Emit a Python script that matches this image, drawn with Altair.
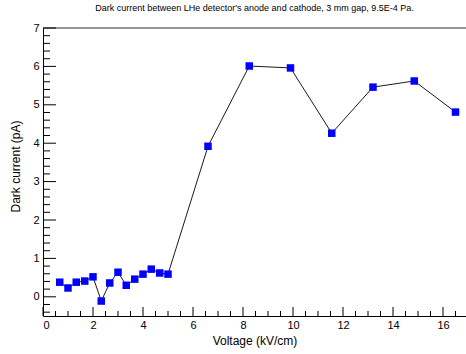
import altair as alt
import pandas as pd

# Dark current measurements: applied field (kV/cm) and current (pA)
voltage = [0.67, 1.0, 1.33, 1.67, 2.0, 2.33, 2.67, 3.0, 3.33, 3.67, 4.0, 4.33, 4.67, 5.0,
           6.6, 8.25, 9.9, 11.55, 13.2, 14.85, 16.5]
current = [0.38, 0.23, 0.38, 0.41, 0.52, -0.11, 0.36, 0.64, 0.30, 0.46, 0.59, 0.72, 0.62, 0.59,
           3.92, 6.01, 5.96, 4.26, 5.46, 5.62, 4.81]

# Axis tick positions
y_major = [0, 1, 2, 3, 4, 5, 6, 7]
y_minor = [round(-0.4 + 0.2 * i, 1) for i in range(37)]
y_minor = [v for v in y_minor if abs(v - round(v)) > 1e-6]
x_major = [0, 2, 4, 6, 8, 10, 12, 14, 16]
x_minor = [0.5 * i for i in range(1, 34) if (0.5 * i) % 2 != 0]
y_top = [7]

W, H = 423, 288
FONT = "Liberation Sans"

df = pd.DataFrame({"voltage": voltage, "current": current})
x_scale = alt.Scale(domain=[0, 16.92], nice=False, zero=False)
y_scale = alt.Scale(domain=[-0.5, 7], nice=False, zero=False)

x_enc = alt.X(
    "voltage:Q", scale=x_scale,
    axis=alt.Axis(values=x_major, ticks=False, grid=False, domainColor="black",
                  domainWidth=1, labelFontSize=11, labelColor="black", labelPadding=3,
                  title="Voltage (kV/cm)", titleFontSize=12, titleFontWeight="normal",
                  titleColor="black", titleX=W / 2, titleY=24, titleBaseline="middle",
                  titleAlign="center"),
)
y_enc = alt.Y(
    "current:Q", scale=y_scale,
    axis=alt.Axis(values=y_major, ticks=False, grid=False, domainColor="black",
                  domainWidth=1, labelFontSize=11, labelColor="black", labelPadding=4,
                  title="Dark current (pA)", titleFontSize=12, titleFontWeight="normal",
                  titleColor="black", titleX=-28, titleY=H / 2 - 6, titleAngle=-90,
                  titleBaseline="middle", titleAlign="center"),
)

line = alt.Chart(df).mark_line(color="#1a1a1a", strokeWidth=1).encode(x=x_enc, y=y_enc)
points = alt.Chart(df).mark_square(color="#0000ff", size=56, opacity=1).encode(x=x_enc, y=y_enc)

def y_ticks(vals, length):
    return alt.Chart(pd.DataFrame({"current": vals})).mark_rule(
        color="black", strokeWidth=1
    ).encode(y=y_enc, x=alt.value(0), x2=alt.value(length))

def x_ticks(vals, length):
    return alt.Chart(pd.DataFrame({"voltage": vals})).mark_rule(
        color="black", strokeWidth=1
    ).encode(x=x_enc, y=alt.value(H), y2=alt.value(H - length))

# frame line along the top of the plot
top_border = alt.Chart(pd.DataFrame({"current": y_top})).mark_rule(
    color="#707070", strokeWidth=1.5
).encode(y=y_enc, x=alt.value(0), x2=alt.value(W))

chart = alt.layer(
    line, points,
    top_border,
    y_ticks(y_minor, 7), y_ticks(y_major, 13),
    x_ticks(x_minor, 5), x_ticks(x_major, 9),
).properties(
    width=W, height=H,
    title=alt.TitleParams(
        "Dark current between LHe detector's anode and cathode, 3 mm gap, 9.5E-4 Pa.",
        fontSize=9, fontWeight="normal", color="black", anchor="middle", offset=9,
    ),
    autosize=alt.AutoSizeParams(type="none"),
    padding={"left": 43, "top": 28, "right": 0, "bottom": 38},
).configure(
    font=FONT,
).configure_view(
    stroke=None,
)

chart.save("out.html", embed_options={"renderer": "svg", "actions": False})
